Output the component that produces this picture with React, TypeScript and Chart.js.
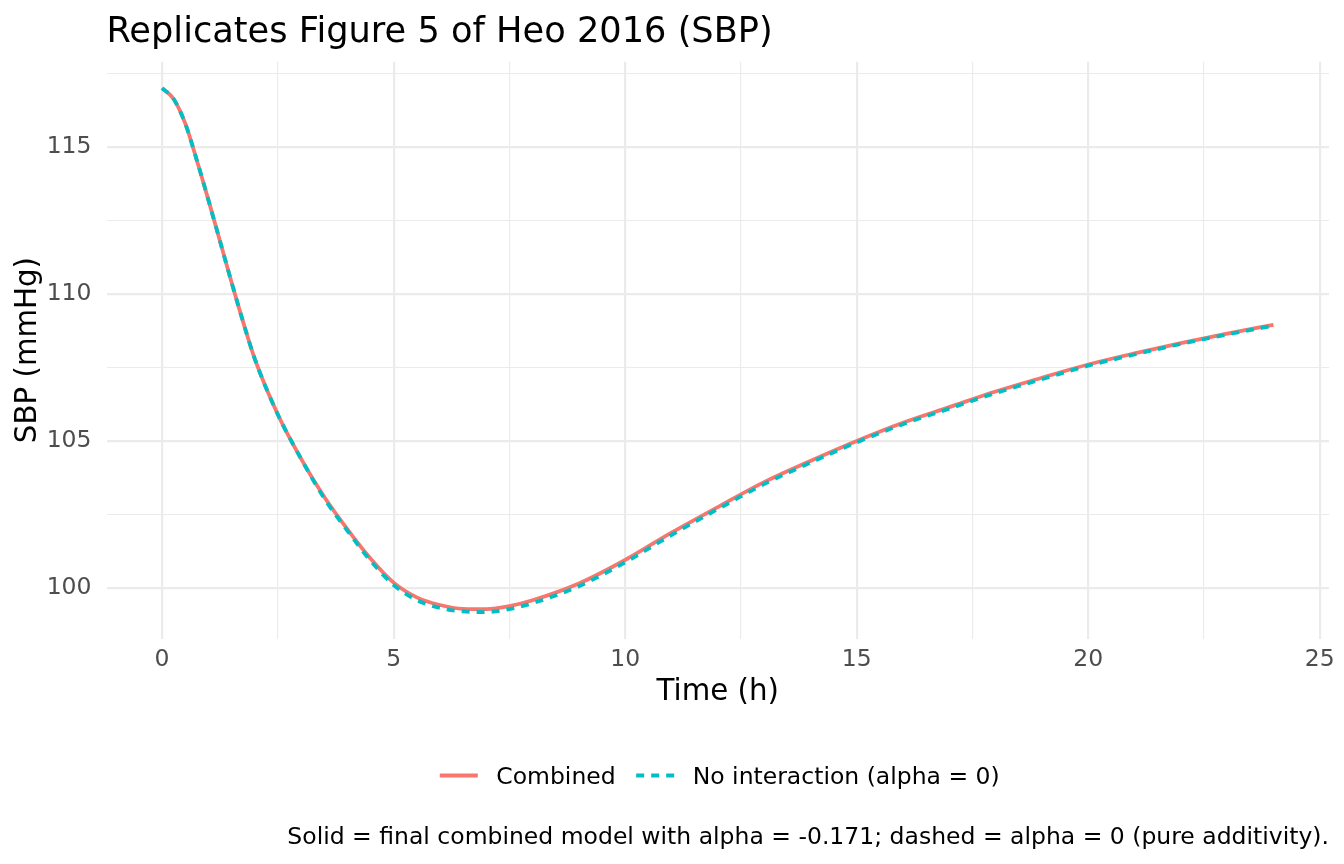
import React, { useEffect, useRef } from "react";
import { Chart, registerables } from "chart.js";

Chart.register(...registerables);

// ---- Data ----
const TIMES = [0, 0.25, 0.5, 0.75, 1, 1.25, 1.5, 1.75, 2, 2.5, 3, 3.5, 4, 4.5, 5, 5.5, 6, 6.5, 7, 7.5, 8, 9, 10, 11, 12, 13, 14, 15, 16, 17, 18, 19, 20, 21, 22, 23, 24];
const COMBINED = [117.0, 116.63, 115.8, 114.55, 113.2, 111.8, 110.4, 109.05, 107.8, 105.9, 104.4, 103.1, 102.0, 101.0, 100.18, 99.68, 99.42, 99.29, 99.28, 99.38, 99.58, 100.15, 100.95, 101.88, 102.75, 103.6, 104.32, 105.0, 105.62, 106.15, 106.68, 107.15, 107.6, 107.98, 108.33, 108.65, 108.95];
const NO_INTERACTION = [117.0, 116.63, 115.8, 114.55, 113.2, 111.8, 110.4, 109.05, 107.8, 105.9, 104.4, 103.05, 101.95, 100.93, 100.1, 99.59, 99.32, 99.2, 99.18, 99.28, 99.48, 100.06, 100.87, 101.8, 102.68, 103.53, 104.26, 104.95, 105.57, 106.1, 106.63, 107.1, 107.56, 107.94, 108.3, 108.62, 108.92];
const X_TICKS = [0, 2.5, 5, 7.5, 10, 12.5, 15, 17.5, 20, 22.5, 25];
const Y_TICKS = [100, 102.5, 105, 107.5, 110, 112.5, 115, 117.5];
const SERIES_NAMES = ["Combined", "No interaction (alpha = 0)"];
const TITLE = "Replicates Figure 5 of Heo 2016 (SBP)";
const X_TITLE = "Time (h)";
const Y_TITLE = "SBP (mmHg)";
const CAPTION = "Solid = final combined model with alpha = -0.171; dashed = alpha = 0 (pure additivity).";

const FONT = "'DejaVu Sans', Verdana, sans-serif";
const RED = "#F8766D";
const CYAN = "#00BFC4";
const DASH = [8, 7];
const LINE_W = 3.8;

const textPlugin = {
  id: "ggText",
  afterDraw(chart: any) {
    const ctx = chart.ctx as CanvasRenderingContext2D;
    const area = chart.chartArea;
    ctx.save();
    // Title
    ctx.fillStyle = "#000000";
    ctx.font = `35.2px ${FONT}`;
    ctx.textAlign = "left";
    ctx.textBaseline = "alphabetic";
    ctx.fillText(TITLE, area.left, 41.5);

    // Legend
    ctx.font = `23.5px ${FONT}`;
    const keyW = 38;
    const keyGap = 18.5;
    const itemGap = 20.5;
    const w0 = ctx.measureText(SERIES_NAMES[0]).width;
    const w1 = ctx.measureText(SERIES_NAMES[1]).width;
    const total = keyW + keyGap + w0 + itemGap + keyW + keyGap + w1;
    const cx = (area.left + area.right) / 2 + 2;
    let x = cx - total / 2;
    const ly = 775.5;
    ctx.lineWidth = LINE_W;
    ctx.lineCap = "butt";
    ctx.strokeStyle = RED;
    ctx.setLineDash([]);
    ctx.beginPath();
    ctx.moveTo(x, ly);
    ctx.lineTo(x + keyW, ly);
    ctx.stroke();
    x += keyW + keyGap;
    ctx.fillStyle = "#000000";
    ctx.fillText(SERIES_NAMES[0], x, 784);
    x += w0 + itemGap;
    ctx.strokeStyle = CYAN;
    ctx.setLineDash(DASH);
    ctx.beginPath();
    ctx.moveTo(x, ly);
    ctx.lineTo(x + keyW, ly);
    ctx.stroke();
    ctx.setLineDash([]);
    x += keyW + keyGap;
    ctx.fillText(SERIES_NAMES[1], x, 784);

    // Caption
    ctx.textAlign = "right";
    ctx.fillText(CAPTION, area.right, 844);
    ctx.restore();
  },
};

export default function App() {
  const canvasRef = useRef<HTMLCanvasElement | null>(null);

  useEffect(() => {
    document.body.style.margin = "0";
    const canvas = canvasRef.current;
    if (!canvas) return;
    const gridWidth = (c: any) => (c.tick && Math.abs(c.tick.value % 5) < 1e-9 ? 2.2 : 1.1);
    const chart = new Chart(canvas, {
      type: "line",
      data: {
        datasets: [
          {
            label: SERIES_NAMES[0],
            data: TIMES.map((t, i) => ({ x: t, y: COMBINED[i] })),
            borderColor: RED,
            backgroundColor: RED,
            borderWidth: LINE_W,
            pointRadius: 0,
            cubicInterpolationMode: "monotone",
            order: 2,
            fill: false,
          },
          {
            label: SERIES_NAMES[1],
            data: TIMES.map((t, i) => ({ x: t, y: NO_INTERACTION[i] })),
            borderColor: CYAN,
            backgroundColor: CYAN,
            borderWidth: LINE_W,
            borderDash: DASH,
            pointRadius: 0,
            cubicInterpolationMode: "monotone",
            order: 1,
            fill: false,
          },
        ],
      },
      options: {
        animation: false,
        responsive: false,
        devicePixelRatio: 1,
        layout: { padding: { left: 0, top: 61.7, right: 15, bottom: 145.5 } },
        plugins: {
          legend: { display: false },
          title: { display: false },
          tooltip: { enabled: false },
        },
        scales: {
          x: {
            type: "linear",
            min: -1.2,
            max: 25.2,
            afterBuildTicks: (scale: any) => {
              scale.ticks = X_TICKS.map((v) => ({ value: v }));
            },
            afterFit: (scale: any) => {
              scale.height = 80;
            },
            grid: { color: "#EBEBEB", lineWidth: gridWidth, drawTicks: false },
            border: { display: false },
            ticks: {
              autoSkip: false,
              maxRotation: 0,
              padding: 7.4,
              color: "#4D4D4D",
              font: { family: FONT, size: 23.5 },
              callback: (v: any) => (Math.abs(Number(v) % 5) < 1e-9 ? String(v) : ""),
            },
            title: {
              display: true,
              text: X_TITLE,
              color: "#000000",
              font: { family: FONT, size: 29.3 },
              padding: { top: 0, bottom: 8.9 },
            },
          },
          y: {
            type: "linear",
            min: 98.28,
            max: 117.9,
            afterBuildTicks: (scale: any) => {
              scale.ticks = Y_TICKS.map((v) => ({ value: v }));
            },
            afterFit: (scale: any) => {
              scale.width = 106.5;
            },
            grid: { color: "#EBEBEB", lineWidth: gridWidth, drawTicks: false },
            border: { display: false },
            ticks: {
              autoSkip: false,
              padding: 15,
              color: "#4D4D4D",
              font: { family: FONT, size: 23.5 },
              callback: (v: any) => (Math.abs(Number(v) % 5) < 1e-9 ? String(v) : ""),
            },
            title: {
              display: true,
              text: Y_TITLE,
              color: "#000000",
              font: { family: FONT, size: 29.3 },
              padding: { top: 10.4, bottom: 0 },
            },
          },
        },
      },
      plugins: [textPlugin],
    } as any);
    return () => chart.destroy();
  }, []);

  return (
    <div style={{ position: "fixed", left: 0, top: 0, width: 1344, height: 864, background: "#ffffff" }}>
      <canvas ref={canvasRef} width={1344} height={864} style={{ width: 1344, height: 864, display: "block" }} />
    </div>
  );
}
